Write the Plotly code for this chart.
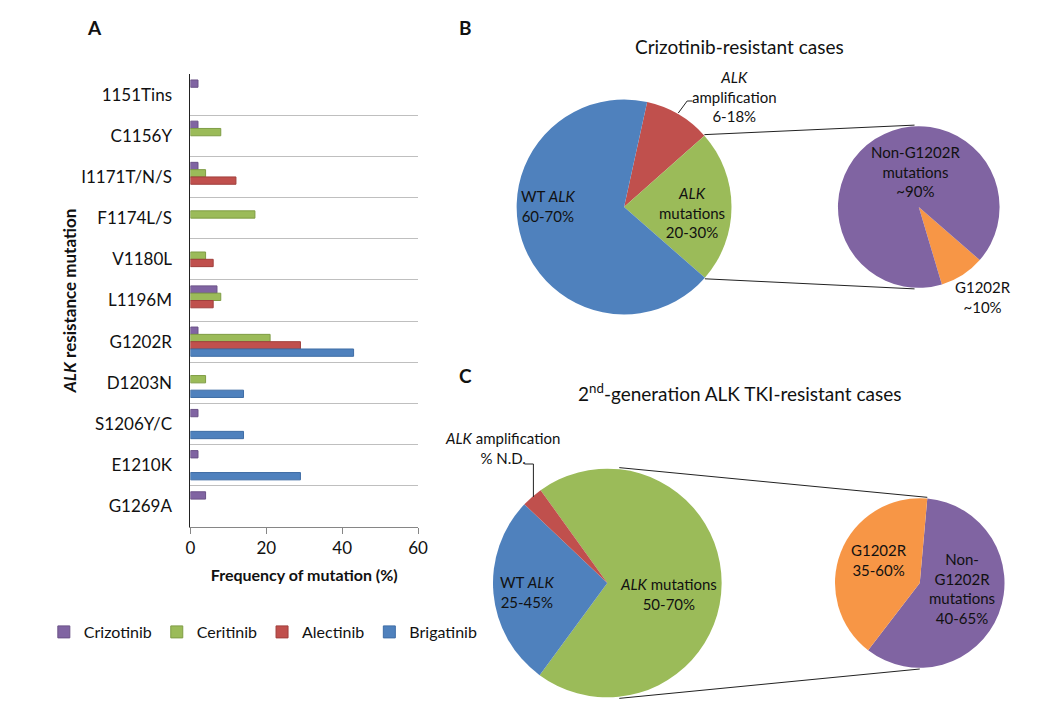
import math
import plotly.graph_objects as go

W, H = 1058, 714
OFF = 8                      # page body margin of the browser
FW, FH = W - 2 * OFF, H - 2 * OFF
FONT = "Lato"

# ---------------- Panel A data ----------------
categories = ["1151Tins", "C1156Y", "I1171T/N/S", "F1174L/S", "V1180L", "L1196M",
              "G1202R", "D1203N", "S1206Y/C", "E1210K", "G1269A"]
crizotinib = [2, 2, 2, None, None, 7, 2, None, 2, 2, 4]
ceritinib = [None, 8, 4, 17, 4, 8, 21, 4, None, None, None]
alectinib = [None, None, 12, None, 6, 6, 29, None, None, None, None]
brigatinib = [None, None, None, None, None, None, 43, 14, 14, 29, None]
series_names = ["Crizotinib", "Ceritinib", "Alectinib", "Brigatinib"]
x_ticks = [0, 20, 40, 60]

# ---------------- Panel B / C pie data ----------------
b_main_labels = ["ALK amplification", "ALK mutations", "WT ALK"]
b_main_values = [10, 23, 67]
b_sub_labels = ["G1202R", "Non-G1202R mutations"]
b_sub_values = [9, 91]
c_main_labels = ["ALK mutations", "WT ALK", "ALK amplification"]
c_main_values = [70, 27, 3]
c_sub_labels = ["Non-G1202R mutations", "G1202R"]
c_sub_values = [59, 41]

# ---------------- styles ----------------
bar_fill = ["#8064A2", "#9BBB59", "#C0504D", "#4F81BD"]
bar_edge = ["#6A5287", "#7F9D45", "#A03F3C", "#3F6DA5"]
pie_col = {"WT ALK": "#4F81BD", "ALK amplification": "#C0504D", "ALK mutations": "#9BBB59",
           "Non-G1202R mutations": "#8064A2", "G1202R": "#F79646"}


def P(x, y):
    """screen pixel -> paper coordinates"""
    return (x - OFF) / FW, 1 - (y - OFF) / FH


fig = go.Figure()
for name, vals, fc, ec in zip(series_names, [crizotinib, ceritinib, alectinib, brigatinib], bar_fill, bar_edge):
    fig.add_trace(go.Bar(y=categories, x=vals, name=name, orientation="h",
                         marker=dict(color=fc, line=dict(color=ec, width=1)),
                         xaxis="x", yaxis="y"))

# pie geometry in screen pixels (centre x, centre y, radius, rotation)
geo = {
    "b_main": (628, 207, 109, 12.4),
    "b_sub": (927, 207, 82, 131),
    "c_main": (611, 583, 116, -35.7),
    "c_sub": (928, 583, 86, 5.1),
}


def dom(cx, cy, r):
    x0, y1 = P(cx - r, cy - r)
    x1, y0 = P(cx + r, cy + r)
    return dict(x=[x0, x1], y=[y0, y1])


def pt(key, ang):
    cx, cy, r, _ = geo[key]
    a = math.radians(ang)
    return P(cx + r * math.sin(a), cy - r * math.cos(a))


def boundary(key, values, k):
    rot = geo[key][3]
    return rot + 360.0 * sum(values[:k]) / sum(values)


for key, labels, values in [("b_main", b_main_labels, b_main_values),
                            ("b_sub", b_sub_labels, b_sub_values),
                            ("c_main", c_main_labels, c_main_values),
                            ("c_sub", c_sub_labels, c_sub_values)]:
    cx, cy, r, rot = geo[key]
    fig.add_trace(go.Pie(labels=labels, values=values, sort=False, direction="clockwise",
                         rotation=rot, domain=dom(cx, cy, r), textinfo="none",
                         marker=dict(colors=[pie_col[l] for l in labels], line=dict(width=0)),
                         showlegend=False, hoverinfo="label+value"))

shapes = []


def seg(p0, p1):
    shapes.append(dict(type="line", xref="paper", yref="paper", x0=p0[0], y0=p0[1],
                       x1=p1[0], y1=p1[1], line=dict(color="#222222", width=1)))


# connectors panel B: from the ALK-mutation slice edges to the sub pie
seg(pt("b_main", boundary("b_main", b_main_values, 1)), pt("b_sub", -3))
seg(pt("b_main", boundary("b_main", b_main_values, 2)), pt("b_sub", 183))
# connectors panel C
seg(pt("c_main", 6), pt("c_sub", boundary("c_sub", c_sub_values, 0)))
seg(pt("c_main", 174), pt("c_sub", 180))

# leader lines
for path_pts in [[(697, 101), (692, 101), (683, 113)], [(527, 464), (536, 464), (536, 497)]]:
    d = "M " + " L ".join(f"{P(x, y)[0]},{P(x, y)[1]}" for x, y in path_pts)
    shapes.append(dict(type="path", xref="paper", yref="paper", path=d,
                       line=dict(color="#222222", width=1)))

annotations = []


def ann(text, x, y, size=15, bold=False, xanchor="center"):
    px, py = P(x, y)
    annotations.append(dict(text=f"<b>{text}</b>" if bold else text, x=px, y=py,
                            xref="paper", yref="paper", showarrow=False, xanchor=xanchor,
                            yanchor="middle", align="center",
                            font=dict(family=FONT, size=size, color="#111111")))


ann("A", 91, 27, 19, True)
ann("B", 467, 27, 19, True)
ann("C", 467, 376, 19, True)
ann("Crizotinib-resistant cases", 745, 46, 19)
ann("2<sup>nd</sup>-generation ALK TKI-resistant cases", 745, 392, 19)

ann("WT <i>ALK</i><br>60-70%", 551, 206)
ann("<i>ALK</i><br>mutations<br>20-30%", 697, 213)
ann("<i>ALK</i><br>amplification<br>6-18%", 740, 97)
ann("Non-G1202R<br>mutations<br>~90%", 924, 172)
ann("G1202R<br>~10%", 992, 297)

ann("<i>ALK</i> amplification<br>% N.D.", 505, 448)
ann("WT <i>ALK</i><br>25-45%", 530, 592)
ann("<i>ALK</i> mutations<br>50-70%", 673, 594)
ann("G1202R<br>35-60%", 887, 560)
ann("Non-<br>G1202R<br>mutations<br>40-65%", 971, 588)

ax0, ay0 = P(188, 527)
ax1, ay1 = P(419, 74)
lx, ly = P(262, 632)

fig.update_layout(
    width=FW, height=FH, autosize=False,
    margin=dict(l=0, r=0, t=0, b=0, pad=0),
    paper_bgcolor="white", plot_bgcolor="white",
    font=dict(family=FONT, size=17, color="#111111"),
    barmode="group", bargap=0.29, bargroupgap=0,
    xaxis=dict(domain=[ax0, ax1], range=[0, 60], tickvals=x_ticks,
               ticks="outside", ticklen=6, tickcolor="#868686", showline=True,
               linecolor="#868686", linewidth=1, showgrid=False, zeroline=False,
               tickfont=dict(size=17),
               title=dict(text="<b>Frequency of mutation (%)</b>", font=dict(size=16), standoff=12)),
    yaxis=dict(domain=[ay0, ay1], type="category", autorange="reversed",
               tickson="boundaries", showgrid=True, gridcolor="#bfbfbf", gridwidth=1,
               showline=True, linecolor="#222222", linewidth=1, ticks="",
               ticklabelstandoff=14, tickfont=dict(size=17),
               title=dict(text="<b><i>ALK</i> resistance mutation</b>", font=dict(size=17), standoff=0)),
    legend=dict(orientation="h", x=lx, xanchor="center", y=ly, yanchor="middle",
                font=dict(size=16), traceorder="normal", itemclick=False),
    shapes=shapes,
    annotations=annotations,
)

fig.write_html("out.html")
